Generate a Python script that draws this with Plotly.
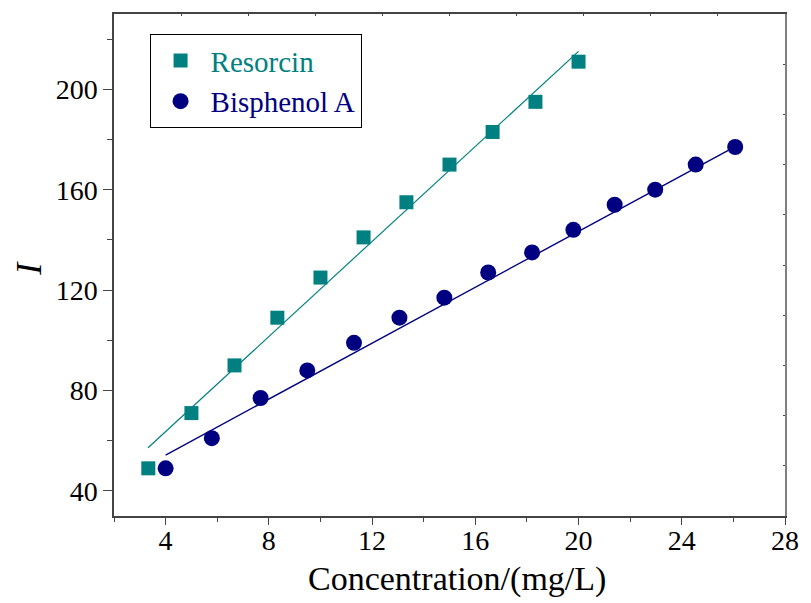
import plotly.graph_objects as go

# Data
resorcin_x = [3.33, 5.0, 6.67, 8.33, 10.0, 11.67, 13.33, 15.0, 16.67, 18.33, 20.0]
resorcin_y = [49, 71, 90, 109, 125, 141, 155, 170, 183, 195, 211]
bpa_x = [4.0, 5.79, 7.68, 9.49, 11.3, 13.06, 14.8, 16.5, 18.2, 19.8, 21.4, 22.97, 24.54, 26.07]
bpa_y = [49, 61, 77, 88, 99, 109, 117, 127, 135, 144, 154, 160, 170, 177]
# Linear fit lines (endpoints)
resorcin_fit_x = [3.32, 20.0]
resorcin_fit_y = [57.2, 215.1]
bpa_fit_x = [4.0, 26.07]
bpa_fit_y = [54.3, 177.2]

x_tickvals = [4, 8, 12, 16, 20, 24, 28]
y_tickvals = [40, 80, 120, 160, 200]

TEAL = "#008080"
NAVY = "#000080"
FONT = "Liberation Serif"
AX = "#444444"

fig = go.Figure()
fig.add_trace(go.Scatter(x=resorcin_fit_x, y=resorcin_fit_y, mode="lines",
                         line=dict(color=TEAL, width=1.2), showlegend=False, hoverinfo="skip"))
fig.add_trace(go.Scatter(x=bpa_fit_x, y=bpa_fit_y, mode="lines",
                         line=dict(color=NAVY, width=1.4), showlegend=False, hoverinfo="skip"))
fig.add_trace(go.Scatter(x=resorcin_x, y=resorcin_y, mode="markers",
                         name=f"<span style='color:{TEAL}'>Resorcin</span>",
                         marker=dict(symbol="square", size=14, color=TEAL)))
fig.add_trace(go.Scatter(x=bpa_x, y=bpa_y, mode="markers",
                         name=f"<span style='color:{NAVY}'>Bisphenol A</span>",
                         marker=dict(symbol="circle", size=16, color=NAVY)))

# Invisible trace to activate the mirror axes (top/right inner ticks)
fig.add_trace(go.Scatter(x=[0, 10], y=[30, 230], xaxis="x2", yaxis="y2", mode="markers",
                         marker=dict(opacity=0), showlegend=False, hoverinfo="skip"))

fig.update_layout(
    width=811, height=603,
    margin=dict(l=114, r=20, t=14, b=87),
    paper_bgcolor="white", plot_bgcolor="white",
    font=dict(family=FONT, color="black", size=27),
    showlegend=True,
    legend=dict(x=0.053, y=0.96, xanchor="left", yanchor="top",
                bordercolor="black", borderwidth=1, bgcolor="white",
                font=dict(family=FONT, size=29), itemwidth=50,
                tracegroupgap=0),
    xaxis=dict(range=[2, 28], tickvals=x_tickvals, ticks="outside", ticklen=7,
               tickwidth=1.2, tickcolor=AX, showline=True, linecolor=AX, linewidth=1.5,
               showgrid=False, zeroline=False,
               minor=dict(ticks="outside", ticklen=4, tickwidth=1.2, tickcolor=AX, dtick=2, tick0=2),
               tickfont=dict(family=FONT, size=28, color="black"), ticklabelstandoff=-8),
    yaxis=dict(range=[30, 230], tickvals=y_tickvals, ticks="outside", ticklen=9,
               tickwidth=1.2, tickcolor=AX, showline=True, linecolor=AX, linewidth=1.5,
               showgrid=False, zeroline=False,
               minor=dict(ticks="outside", ticklen=5, tickwidth=1.2, tickcolor=AX, dtick=40, tick0=20),
               tickfont=dict(family=FONT, size=28, color="black"), ticklabelstandoff=0),
    xaxis2=dict(overlaying="x", side="top", range=[0, 10], dtick=1, ticks="inside",
                ticklen=2, tickcolor=AX, showticklabels=False, showline=True,
                linecolor=AX, linewidth=1.5, showgrid=False, zeroline=False),
    yaxis2=dict(overlaying="y", side="right", range=[30, 230], tick0=10, dtick=20,
                ticks="inside", ticklen=2, tickcolor=AX, showticklabels=False,
                showline=True, linecolor="#808080", linewidth=2, showgrid=False, zeroline=False),
)

# Axis titles placed by pixel position, converted to paper fractions
pw = 811 - 114 - 20
ph = 603 - 14 - 87
def px_to_paper(px, py):
    return (px - 114) / pw, (603 - 87 - py) / ph

tx, ty = px_to_paper(460, 579)
ix, iy = px_to_paper(28, 268)
fig.update_layout(annotations=[
    dict(text="Concentration/(mg/L)", x=tx, y=ty, xref="paper", yref="paper",
         xanchor="center", yanchor="middle", showarrow=False,
         font=dict(family=FONT, size=34, color="black")),
    dict(text="<i>I</i>", x=ix, y=iy, xref="paper", yref="paper", textangle=-90,
         xanchor="center", yanchor="middle", showarrow=False,
         font=dict(family=FONT, size=36, color="black")),
])

fig.write_html("out.html")
